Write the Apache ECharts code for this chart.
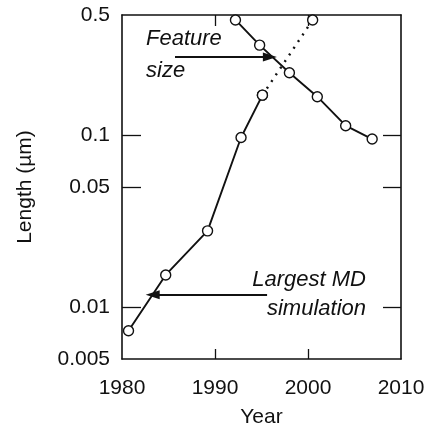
<!DOCTYPE html>
<html>
<head>
<meta charset="utf-8">
<script src="https://cdn.jsdelivr.net/npm/echarts@6/dist/echarts.min.js"></script>
<style>
html,body{margin:0;padding:0;background:#fff;}
#chart{width:429px;height:438px;}
</style>
</head>
<body>
<div id="chart"></div>
<script>
// ---- data ----
var mdYears = [1980.7, 1984.7, 1989.2, 1992.8, 1995.1];
var mdLength = [0.0073, 0.0154, 0.0278, 0.097, 0.171];
var mdProjYears = [1995.1, 2000.5];
var mdProjLength = [0.171, 0.468];
var featureYears = [1992.2, 1994.8, 1998.0, 2001.0, 2004.05, 2006.9];
var featureLength = [0.468, 0.334, 0.231, 0.1675, 0.1136, 0.095];
var yTickLabels = [0.005, 0.01, 0.05, 0.1, 0.5];
var yTickMarks = [0.01, 0.05, 0.1];
var xTickLabels = [1980, 1990, 2000, 2010];
var xTickMarks = [1990, 2000];
// annotation arrows (data coords)
var featureArrow = [[1985.7, 0.285], [1995.9, 0.285]];
var mdArrow = [[1995.6, 0.0118], [1983.3, 0.0118]];

function zip(a, b) { return a.map(function (v, i) { return [v, b[i]]; }); }

var chart = echarts.init(document.getElementById('chart'), null, {renderer: 'canvas'});
var FONT = '"Liberation Sans", Arial, sans-serif';
var black = '#111';

function fmtY(v) {
  var best = yTickLabels.reduce(function (p, c) { return Math.abs(Math.log(c) - Math.log(v)) < Math.abs(Math.log(p) - Math.log(v)) ? c : p; });
  return String(best);
}

var xBase = {
  type: 'value', min: 1980, max: 2010,
  splitLine: {show: false},
  axisLine: {show: true, lineStyle: {color: black, width: 1.6}}
};
var yBase = {
  type: 'log', logBase: 10, min: 0.005, max: 0.5,
  splitLine: {show: false},
  axisLine: {show: true, lineStyle: {color: black, width: 1.6}}
};

var option = {
  animation: false,
  backgroundColor: '#fff',
  grid: {left: 122, top: 15, right: 28, bottom: 79, containLabel: false},
  xAxis: [
    Object.assign({}, xBase, {
      position: 'bottom',
      name: 'Year', nameLocation: 'middle', nameGap: 48,
      nameTextStyle: {fontFamily: FONT, fontSize: 21, color: black},
      axisTick: {show: true, inside: true, length: 10, customValues: xTickMarks, lineStyle: {color: black, width: 1.3}},
      axisLabel: {show: true, customValues: xTickLabels, margin: 19, fontFamily: FONT, fontSize: 21, color: black,
        formatter: function (v) { return String(Math.round(v)); }}
    }),
    Object.assign({}, xBase, {
      position: 'top',
      axisTick: {show: true, inside: true, length: 11, customValues: xTickMarks, lineStyle: {color: black, width: 1.3}},
      axisLabel: {show: false}
    })
  ],
  yAxis: [
    Object.assign({}, yBase, {
      position: 'left',
      name: 'Length (µm)', nameLocation: 'middle', nameGap: 86, nameRotate: 90,
      nameTextStyle: {fontFamily: FONT, fontSize: 21, color: black},
      axisTick: {show: true, inside: true, length: 19, customValues: yTickMarks, lineStyle: {color: black, width: 1.3}},
      axisLabel: {show: true, customValues: yTickLabels, margin: 12, fontFamily: FONT, fontSize: 21, color: black, formatter: fmtY}
    }),
    Object.assign({}, yBase, {
      position: 'right',
      axisTick: {show: true, inside: true, length: 18, customValues: yTickMarks, lineStyle: {color: black, width: 1.3}},
      axisLabel: {show: false}
    })
  ],
  series: [
    {
      name: 'Largest MD simulation', type: 'line',
      data: zip(mdYears, mdLength),
      symbol: 'circle', symbolSize: 10,
      itemStyle: {color: '#fff', borderColor: black, borderWidth: 1.4},
      lineStyle: {color: black, width: 1.9},
      z: 3,
      markLine: {
        silent: true, symbol: ['none', 'triangle'], symbolSize: [9, 14],
        lineStyle: {color: black, width: 1.8, type: 'solid'},
        label: {show: false},
        data: [[{coord: mdArrow[0]}, {coord: mdArrow[1]}]]
      }
    },
    {
      name: 'Largest MD simulation (projected)', type: 'line',
      data: zip(mdProjYears, mdProjLength),
      symbol: 'circle', symbolSize: 10,
      showSymbol: true,
      itemStyle: {color: '#fff', borderColor: black, borderWidth: 1.4},
      lineStyle: {color: black, width: 2.4, type: [2, 6]},
      z: 2
    },
    {
      name: 'Feature size', type: 'line',
      data: zip(featureYears, featureLength),
      symbol: 'circle', symbolSize: 10,
      itemStyle: {color: '#fff', borderColor: black, borderWidth: 1.4},
      lineStyle: {color: black, width: 1.9},
      z: 3,
      markLine: {
        silent: true, symbol: ['none', 'triangle'], symbolSize: [9, 14],
        lineStyle: {color: black, width: 1.8, type: 'solid'},
        label: {show: false},
        data: [[{coord: featureArrow[0]}, {coord: featureArrow[1]}]]
      }
    }
  ],
  graphic: [
    {type: 'text', left: 146, top: 28, style: {text: 'Feature', font: 'italic 22px ' + FONT, fill: black}},
    {type: 'text', left: 146, top: 60, style: {text: 'size', font: 'italic 22px ' + FONT, fill: black}},
    {type: 'text', right: 429 - 366, top: 269, style: {text: 'Largest MD', font: 'italic 22px ' + FONT, fill: black}},
    {type: 'text', right: 429 - 366, top: 298, style: {text: 'simulation', font: 'italic 22px ' + FONT, fill: black}}
  ]
};
chart.setOption(option);
</script>
</body>
</html>
